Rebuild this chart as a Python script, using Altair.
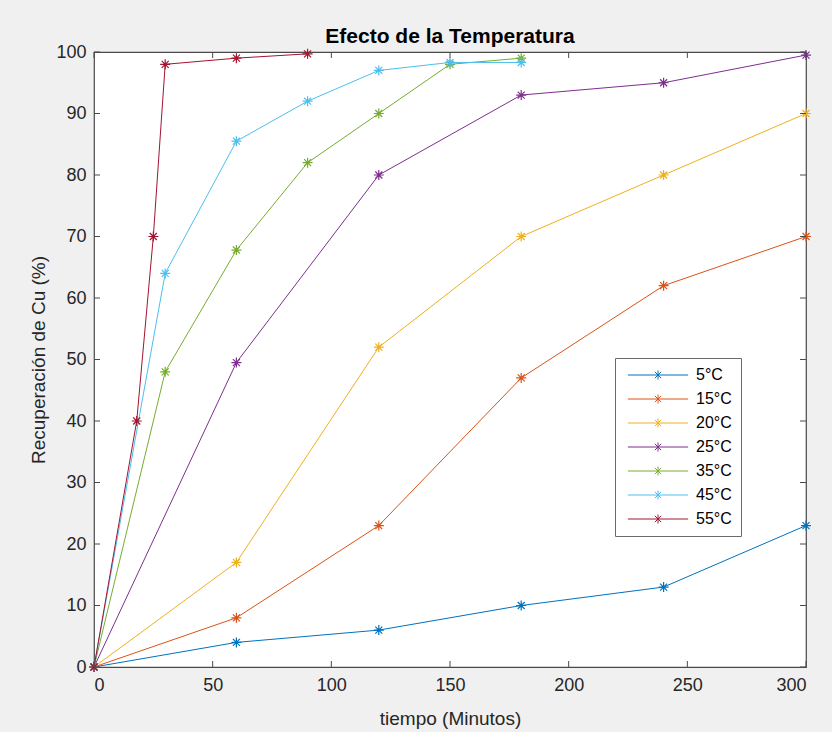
import altair as alt
import pandas as pd

# Cu recovery (%) versus leaching time (minutes) at each temperature
series = ["5°C", "15°C", "20°C", "25°C", "35°C", "45°C", "55°C"]
colors = ["#0072BD", "#D95319", "#EDB120", "#7E2F8E", "#77AC30", "#4DBEEE", "#A2142F"]

t_5 = [0, 60, 120, 180, 240, 300]
r_5 = [0, 4, 6, 10, 13, 23]
t_15 = [0, 60, 120, 180, 240, 300]
r_15 = [0, 8, 23, 47, 62, 70]
t_20 = [0, 60, 120, 180, 240, 300]
r_20 = [0, 17, 52, 70, 80, 90]
t_25 = [0, 60, 120, 180, 240, 300]
r_25 = [0, 49.5, 80, 93, 95, 99.5]
t_35 = [0, 30, 60, 90, 120, 150, 180]
r_35 = [0, 48, 67.8, 82, 90, 98, 99]
t_45 = [0, 30, 60, 90, 120, 150, 180]
r_45 = [0, 64, 85.5, 92, 97, 98.3, 98.3]
t_55 = [0, 18, 25, 30, 60, 90]
r_55 = [0, 40, 70, 98, 99, 99.7]

x_ticks = [0, 50, 100, 150, 200, 250, 300]
y_ticks = [0, 10, 20, 30, 40, 50, 60, 70, 80, 90, 100]

times = [t_5, t_15, t_20, t_25, t_35, t_45, t_55]
recov = [r_5, r_15, r_20, r_25, r_35, r_45, r_55]

rows = []
for name, ts, rs in zip(series, times, recov):
    for i, (t, r) in enumerate(zip(ts, rs)):
        rows.append({"serie": name, "t": t, "r": r, "i": i})
df = pd.DataFrame(rows)

W, H = 712, 615
FONT = "Liberation Sans"
AXIS_COLOR = "#4a4a4a"
TICK_LEN = 6

# asterisk marker (plus overlaid with a cross)
ASTERISK = "M-1,0L1,0M0,-1L0,1M-0.7,-0.7L0.7,0.7M-0.7,0.7L0.7,-0.7"
# legend glyph: a line segment through an asterisk
LEGEND_GLYPH = "M-6.7,0L6.7,0M0,-1L0,1M-0.7,-0.7L0.7,0.7M-0.7,0.7L0.7,-0.7"

x_scale = alt.Scale(domain=[0, 300], nice=False, zero=False)
y_scale = alt.Scale(domain=[0, 100], nice=False, zero=False)
color = alt.Color(
    "serie:N",
    scale=alt.Scale(domain=series, range=colors),
    sort=series,
    legend=alt.Legend(
        title=None,
        orient="none",
        legendX=521,
        legendY=306,
        symbolType=LEGEND_GLYPH,
        symbolSize=81,
        symbolStrokeWidth=1,
        symbolFillColor="transparent",
        symbolOffset=26,
        labelOffset=30,
        labelFontSize=16,
        labelFont=FONT,
        labelColor="#000000",
        rowPadding=8,
        padding=9,
        fillColor="#ffffff",
        strokeColor="#6a6a6a",
    ),
)

x_axis = alt.Axis(
    title="tiempo (Minutos)",
    values=x_ticks,
    ticks=False,
    domain=False,
    grid=False,
    labelPadding=9,
    titlePadding=15,
)
y_axis = alt.Axis(
    title="Recuperación de Cu (%)",
    values=y_ticks,
    ticks=False,
    domain=False,
    grid=False,
    labelPadding=8,
    titlePadding=7,
)

base = alt.Chart(df).encode(
    x=alt.X("t:Q", scale=x_scale, axis=x_axis),
    y=alt.Y("r:Q", scale=y_scale, axis=y_axis),
    color=color,
    order="i:Q",
)

lines = base.mark_line(strokeWidth=1, clip=True)
points = base.mark_point(shape=ASTERISK, filled=False, size=100, strokeWidth=1.2, opacity=1)

# inward tick marks on all four sides of the box
xt = pd.DataFrame({"t": x_ticks})
yt = pd.DataFrame({"r": y_ticks})
tick_kw = dict(color=AXIS_COLOR, strokeWidth=1)
bottom_ticks = alt.Chart(xt).mark_rule(**tick_kw).encode(
    x=alt.X("t:Q", scale=x_scale), y=alt.value(H), y2=alt.value(H - TICK_LEN)
)
top_ticks = alt.Chart(xt).mark_rule(**tick_kw).encode(
    x=alt.X("t:Q", scale=x_scale), y=alt.value(0), y2=alt.value(TICK_LEN)
)
left_ticks = alt.Chart(yt).mark_rule(**tick_kw).encode(
    y=alt.Y("r:Q", scale=y_scale), x=alt.value(0), x2=alt.value(TICK_LEN)
)
right_ticks = alt.Chart(yt).mark_rule(**tick_kw).encode(
    y=alt.Y("r:Q", scale=y_scale), x=alt.value(W), x2=alt.value(W - TICK_LEN)
)

chart = (
    alt.layer(lines, points, bottom_ticks, top_ticks, left_ticks, right_ticks)
    .properties(
        width=W,
        height=H,
        title=alt.TitleParams(
            "Efecto de la Temperatura",
            font=FONT,
            fontSize=21,
            fontWeight="bold",
            color="#000000",
            anchor="middle",
            offset=-4,
        ),
        background="#f0f0f0",
        autosize=alt.AutoSizeParams(type="none"),
        padding={"left": 94, "top": 52, "right": 26, "bottom": 65},
    )
    .configure_view(fill="#ffffff", stroke=AXIS_COLOR, strokeWidth=1.2)
    .configure_axis(
        labelFont=FONT,
        labelFontSize=18,
        labelColor="#262626",
        titleFont=FONT,
        titleFontSize=19,
        titleFontWeight="normal",
        titleColor="#262626",
    )
)

chart.save("out.html", embed_options={"renderer": "svg", "actions": False})
